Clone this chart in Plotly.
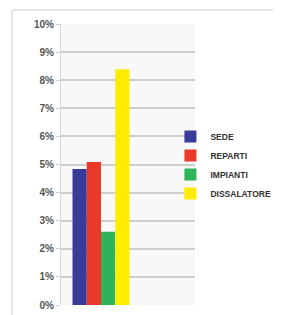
import plotly.graph_objects as go

categories = [""]
series_names = ["SEDE", "REPARTI", "IMPIANTI", "DISSALATORE"]
series_values = [0.0484, 0.0509, 0.0261, 0.0839]
series_colors = ["#383c98", "#e8392a", "#2db45a", "#ffec00"]
y_ticks = [i / 100 for i in range(0, 11)]
y_tick_labels = [f"{i}%" for i in range(0, 11)]

# The page body adds an 8px offset, so the figure is sized 8px smaller.
W, H = 273, 307

fig = go.Figure()
for name, val, col in zip(series_names, series_values, series_colors):
    fig.add_trace(go.Bar(x=[0], y=[val], name=name, marker=dict(color=col, line=dict(width=0))))

fig.update_layout(
    width=W, height=H,
    margin=dict(l=53, r=86, t=16, b=10, autoexpand=False),
    paper_bgcolor="white",
    plot_bgcolor="#f8f8f8",
    barmode="group",
    bargap=0.2875,
    bargroupgap=0,
    showlegend=True,
    legend=dict(
        xref="container", yref="container",
        x=0.595, y=0.629, xanchor="left", yanchor="top",
        font=dict(family="Liberation Sans", size=8.5, color="#333333", weight="bold"),
        itemwidth=30, tracegroupgap=0, bgcolor="rgba(0,0,0,0)",
    ),
    font=dict(family="Liberation Sans"),
)
fig.update_xaxes(range=[-0.5, 1.175], showticklabels=False, showgrid=False, zeroline=False,
                 showline=False, fixedrange=True)
fig.update_yaxes(range=[0, 0.1], tickvals=y_ticks, ticktext=y_tick_labels,
                 showgrid=True, gridcolor="#cfcccc", gridwidth=1.5, zeroline=False,
                 showline=True, linecolor="#d8d8d8", linewidth=1,
                 ticks="outside", ticklen=4, tickcolor="#cfcccc",
                 tickfont=dict(family="Liberation Sans", size=10, color="#555555", weight="bold"))
fig.add_shape(type="line", xref="paper", yref="paper", x0=-0.366, x1=1.61, y0=1.05, y1=1.05,
              line=dict(color="#dcdcdc", width=1.5))
fig.add_shape(type="line", xref="paper", yref="paper", x0=-0.366, x1=-0.366, y0=1.05, y1=-0.05,
              line=dict(color="#dcdcdc", width=1.5))
fig.write_html("out.html")
